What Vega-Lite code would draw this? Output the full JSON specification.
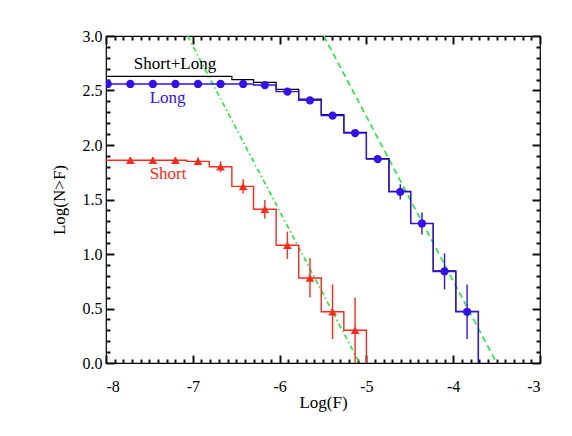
{
  "$schema": "https://vega.github.io/schema/vega-lite/v6.json",
  "width": 434,
  "height": 327,
  "autosize": {"type": "none"},
  "padding": {"left": 106, "top": 36, "right": 32, "bottom": 73},
  "background": "white",
  "config": {
    "view": {"stroke": "black", "strokeWidth": 1.2},
    "axis": {"domain": false, "grid": false, "tickColor": "black", "tickOpacity": 1, "labelColor": "black", "titleColor": "black", "labelFont": "Liberation Serif", "titleFont": "Liberation Serif", "labelFontSize": 16, "titleFontSize": 17, "titleFontWeight": "normal"}
  },
  "datasets": {
    "hist": [
      {"s": "Short+Long", "edge": -8.0, "n": 2.63},
      {"s": "Short+Long", "edge": -7.85, "n": 2.63},
      {"s": "Short+Long", "edge": -7.59, "n": 2.63},
      {"s": "Short+Long", "edge": -7.33, "n": 2.63},
      {"s": "Short+Long", "edge": -7.07, "n": 2.63},
      {"s": "Short+Long", "edge": -6.81, "n": 2.63},
      {"s": "Short+Long", "edge": -6.55, "n": 2.60},
      {"s": "Short+Long", "edge": -6.30, "n": 2.575},
      {"s": "Short+Long", "edge": -6.04, "n": 2.51},
      {"s": "Short+Long", "edge": -5.78, "n": 2.42},
      {"s": "Short+Long", "edge": -5.52, "n": 2.28},
      {"s": "Short+Long", "edge": -5.26, "n": 2.115},
      {"s": "Short+Long", "edge": -5.00, "n": 1.875},
      {"s": "Short+Long", "edge": -4.74, "n": 1.575},
      {"s": "Short+Long", "edge": -4.49, "n": 1.28},
      {"s": "Short+Long", "edge": -4.23, "n": 0.845},
      {"s": "Short+Long", "edge": -3.97, "n": 0.475},
      {"s": "Short+Long", "edge": -3.71, "n": 0},
      {"s": "Long", "edge": -8.0, "n": 2.56},
      {"s": "Long", "edge": -7.85, "n": 2.56},
      {"s": "Long", "edge": -7.59, "n": 2.56},
      {"s": "Long", "edge": -7.33, "n": 2.56},
      {"s": "Long", "edge": -7.07, "n": 2.56},
      {"s": "Long", "edge": -6.81, "n": 2.56},
      {"s": "Long", "edge": -6.55, "n": 2.56},
      {"s": "Long", "edge": -6.30, "n": 2.55},
      {"s": "Long", "edge": -6.04, "n": 2.49},
      {"s": "Long", "edge": -5.78, "n": 2.41},
      {"s": "Long", "edge": -5.52, "n": 2.27},
      {"s": "Long", "edge": -5.26, "n": 2.11},
      {"s": "Long", "edge": -5.00, "n": 1.87},
      {"s": "Long", "edge": -4.74, "n": 1.57},
      {"s": "Long", "edge": -4.49, "n": 1.28},
      {"s": "Long", "edge": -4.23, "n": 0.84},
      {"s": "Long", "edge": -3.97, "n": 0.47},
      {"s": "Long", "edge": -3.71, "n": 0},
      {"s": "Short", "edge": -8.0, "n": 1.86},
      {"s": "Short", "edge": -7.85, "n": 1.86},
      {"s": "Short", "edge": -7.59, "n": 1.86},
      {"s": "Short", "edge": -7.33, "n": 1.86},
      {"s": "Short", "edge": -7.07, "n": 1.85},
      {"s": "Short", "edge": -6.81, "n": 1.80},
      {"s": "Short", "edge": -6.55, "n": 1.62},
      {"s": "Short", "edge": -6.30, "n": 1.41},
      {"s": "Short", "edge": -6.04, "n": 1.08},
      {"s": "Short", "edge": -5.78, "n": 0.78},
      {"s": "Short", "edge": -5.52, "n": 0.47},
      {"s": "Short", "edge": -5.26, "n": 0.30},
      {"s": "Short", "edge": -5.00, "n": 0}
    ],
    "pts": [
      {"s": "Long", "x": -7.98, "n": 2.56, "lo": 2.548, "hi": 2.572},
      {"s": "Long", "x": -7.72, "n": 2.56, "lo": 2.548, "hi": 2.572},
      {"s": "Long", "x": -7.46, "n": 2.56, "lo": 2.548, "hi": 2.572},
      {"s": "Long", "x": -7.20, "n": 2.56, "lo": 2.548, "hi": 2.572},
      {"s": "Long", "x": -6.94, "n": 2.56, "lo": 2.548, "hi": 2.572},
      {"s": "Long", "x": -6.68, "n": 2.56, "lo": 2.548, "hi": 2.572},
      {"s": "Long", "x": -6.42, "n": 2.56, "lo": 2.548, "hi": 2.572},
      {"s": "Long", "x": -6.17, "n": 2.55, "lo": 2.537, "hi": 2.563},
      {"s": "Long", "x": -5.91, "n": 2.49, "lo": 2.475, "hi": 2.505},
      {"s": "Long", "x": -5.65, "n": 2.41, "lo": 2.395, "hi": 2.425},
      {"s": "Long", "x": -5.39, "n": 2.27, "lo": 2.25, "hi": 2.29},
      {"s": "Long", "x": -5.13, "n": 2.11, "lo": 2.085, "hi": 2.135},
      {"s": "Long", "x": -4.87, "n": 1.87, "lo": 1.835, "hi": 1.905},
      {"s": "Long", "x": -4.61, "n": 1.57, "lo": 1.50, "hi": 1.64},
      {"s": "Long", "x": -4.36, "n": 1.28, "lo": 1.18, "hi": 1.38},
      {"s": "Long", "x": -4.10, "n": 0.84, "lo": 0.675, "hi": 1.005},
      {"s": "Long", "x": -3.84, "n": 0.47, "lo": 0.22, "hi": 0.72},
      {"s": "Short", "x": -7.72, "n": 1.86, "lo": 1.83, "hi": 1.89},
      {"s": "Short", "x": -7.46, "n": 1.86, "lo": 1.83, "hi": 1.89},
      {"s": "Short", "x": -7.20, "n": 1.86, "lo": 1.83, "hi": 1.89},
      {"s": "Short", "x": -6.94, "n": 1.85, "lo": 1.815, "hi": 1.885},
      {"s": "Short", "x": -6.68, "n": 1.80, "lo": 1.75, "hi": 1.85},
      {"s": "Short", "x": -6.42, "n": 1.62, "lo": 1.555, "hi": 1.685},
      {"s": "Short", "x": -6.17, "n": 1.41, "lo": 1.325, "hi": 1.495},
      {"s": "Short", "x": -5.91, "n": 1.08, "lo": 0.955, "hi": 1.205},
      {"s": "Short", "x": -5.65, "n": 0.78, "lo": 0.60, "hi": 0.96},
      {"s": "Short", "x": -5.39, "n": 0.47, "lo": 0.22, "hi": 0.72},
      {"s": "Short", "x": -5.13, "n": 0.30, "lo": 0.0, "hi": 0.60}
    ],
    "fits": [
      {"fit": "short", "x": -7.06, "y": 3.0},
      {"fit": "short", "x": -5.08, "y": 0.0},
      {"fit": "long", "x": -5.49, "y": 3.0},
      {"fit": "long", "x": -3.50, "y": 0.0}
    ],
    "labels": [
      {"s": "Short+Long", "x": -7.205, "y": 2.74},
      {"s": "Long", "x": -7.29, "y": 2.43},
      {"s": "Short", "x": -7.285, "y": 1.735}
    ]
  },
  "resolve": {"axis": {"x": "independent", "y": "independent"}},
  "layer": [
    {
      "data": {"name": "fits"},
      "transform": [{"filter": "datum.fit === 'short'"}],
      "mark": {"type": "line", "color": "#22e83a", "strokeWidth": 1.6, "strokeDash": [5, 3, 1.5, 3], "clip": true},
      "encoding": {
        "x": {"field": "x", "type": "quantitative", "scale": {"domain": [-8, -3], "nice": false, "zero": false},
          "axis": {"orient": "bottom", "values": [-8, -7, -6, -5, -4, -3], "ticks": false, "labelPadding": 15, "labelExpr": "datum.value + ''", "title": "Log(F)", "titleY": 44, "titleBaseline": "alphabetic"}},
        "y": {"field": "y", "type": "quantitative", "scale": {"domain": [0, 3], "nice": false, "zero": false},
          "axis": {"orient": "left", "offset": -8, "values": [0, 0.5, 1, 1.5, 2, 2.5, 3], "tickSize": 8, "tickWidth": 2, "tickColor": "#111111", "labelPadding": 4, "format": ".1f", "title": "Log(N>F)", "titleX": -50, "titleBaseline": "alphabetic"}}
      }
    },
    {
      "data": {"name": "fits"},
      "transform": [{"filter": "datum.fit === 'long'"}],
      "mark": {"type": "line", "color": "#22e83a", "strokeWidth": 1.6, "strokeDash": [6, 4], "clip": true},
      "encoding": {
        "x": {"field": "x", "type": "quantitative", "axis": {"orient": "bottom", "offset": -8, "values": [-8, -7, -6, -5, -4, -3], "tickSize": 8, "tickWidth": 2, "tickColor": "#111111", "labels": false, "title": null}},
        "y": {"field": "y", "type": "quantitative", "axis": {"orient": "left", "offset": -4, "values": [0.1,0.2,0.3,0.4,0.6,0.7,0.8,0.9,1.1,1.2,1.3,1.4,1.6,1.7,1.8,1.9,2.1,2.2,2.3,2.4,2.6,2.7,2.8,2.9], "tickSize": 4, "tickWidth": 2, "tickColor": "#111111", "labels": false, "title": null}}
      }
    },
    {
      "data": {"name": "hist"},
      "transform": [{"filter": "datum.s === 'Short+Long'"}],
      "mark": {"type": "line", "interpolate": "step-after", "color": "black", "strokeWidth": 1.2, "clip": true},
      "encoding": {
        "x": {"field": "edge", "type": "quantitative", "axis": {"orient": "top", "offset": -8, "values": [-8, -7, -6, -5, -4, -3], "tickSize": 8, "tickWidth": 2, "tickColor": "#111111", "labels": false, "title": null}},
        "y": {"field": "n", "type": "quantitative", "axis": {"orient": "right", "offset": -8, "values": [0, 0.5, 1, 1.5, 2, 2.5, 3], "tickSize": 8, "tickWidth": 2, "tickColor": "#111111", "labels": false, "title": null}}
      }
    },
    {
      "data": {"name": "hist"},
      "transform": [{"filter": "datum.s === 'Long'"}],
      "mark": {"type": "line", "interpolate": "step-after", "color": "#3311ee", "strokeWidth": 1.4, "clip": true},
      "encoding": {
        "x": {"field": "edge", "type": "quantitative", "axis": {"orient": "top", "offset": -4, "values": [-7.9,-7.8,-7.7,-7.6,-7.5,-7.4,-7.3,-7.2,-7.1,-6.9,-6.8,-6.7,-6.6,-6.5,-6.4,-6.3,-6.2,-6.1,-5.9,-5.8,-5.7,-5.6,-5.5,-5.4,-5.3,-5.2,-5.1,-4.9,-4.8,-4.7,-4.6,-4.5,-4.4,-4.3,-4.2,-4.1,-3.9,-3.8,-3.7,-3.6,-3.5,-3.4,-3.3,-3.2,-3.1], "tickSize": 4, "tickWidth": 2, "tickColor": "#111111", "labels": false, "title": null}},
        "y": {"field": "n", "type": "quantitative", "axis": {"orient": "right", "offset": -4, "values": [0.1,0.2,0.3,0.4,0.6,0.7,0.8,0.9,1.1,1.2,1.3,1.4,1.6,1.7,1.8,1.9,2.1,2.2,2.3,2.4,2.6,2.7,2.8,2.9], "tickSize": 4, "tickWidth": 2, "tickColor": "#111111", "labels": false, "title": null}}
      }
    },
    {
      "data": {"name": "hist"},
      "transform": [{"filter": "datum.s === 'Short'"}],
      "mark": {"type": "line", "interpolate": "step-after", "color": "#ff2a1a", "strokeWidth": 1.4, "clip": true},
      "encoding": {
        "x": {"field": "edge", "type": "quantitative", "axis": {"orient": "bottom", "offset": -4, "values": [-7.9,-7.8,-7.7,-7.6,-7.5,-7.4,-7.3,-7.2,-7.1,-6.9,-6.8,-6.7,-6.6,-6.5,-6.4,-6.3,-6.2,-6.1,-5.9,-5.8,-5.7,-5.6,-5.5,-5.4,-5.3,-5.2,-5.1,-4.9,-4.8,-4.7,-4.6,-4.5,-4.4,-4.3,-4.2,-4.1,-3.9,-3.8,-3.7,-3.6,-3.5,-3.4,-3.3,-3.2,-3.1], "tickSize": 4, "tickWidth": 2, "tickColor": "#111111", "labels": false, "title": null}},
        "y": {"field": "n", "type": "quantitative", "axis": null}
      }
    },
    {
      "data": {"name": "pts"},
      "mark": {"type": "rule", "strokeWidth": 1.4, "clip": true},
      "encoding": {
        "x": {"field": "x", "type": "quantitative", "axis": null},
        "y": {"field": "lo", "type": "quantitative", "axis": null},
        "y2": {"field": "hi"},
        "color": {"field": "s", "type": "nominal", "scale": {"domain": ["Short+Long", "Long", "Short"], "range": ["black", "#3311ee", "#ff2a1a"]}, "legend": null}
      }
    },
    {
      "data": {"name": "pts"},
      "transform": [{"filter": "datum.s === 'Long'"}],
      "mark": {"type": "point", "shape": "circle", "filled": true, "opacity": 1, "size": 68, "color": "#3311ee", "clip": true},
      "encoding": {
        "x": {"field": "x", "type": "quantitative", "axis": null},
        "y": {"field": "n", "type": "quantitative", "axis": null}
      }
    },
    {
      "data": {"name": "pts"},
      "transform": [{"filter": "datum.s === 'Short'"}],
      "mark": {"type": "point", "shape": "triangle-up", "filled": true, "opacity": 1, "size": 75, "color": "#ff2a1a", "clip": true},
      "encoding": {
        "x": {"field": "x", "type": "quantitative", "axis": null},
        "y": {"field": "n", "type": "quantitative", "axis": null}
      }
    },
    {
      "data": {"name": "labels"},
      "mark": {"type": "text", "font": "Liberation Serif", "fontSize": 17, "align": "center", "baseline": "middle"},
      "encoding": {
        "x": {"field": "x", "type": "quantitative", "axis": null},
        "y": {"field": "y", "type": "quantitative", "axis": null},
        "text": {"field": "s"},
        "color": {"field": "s", "type": "nominal", "legend": null}
      }
    }
  ]
}
